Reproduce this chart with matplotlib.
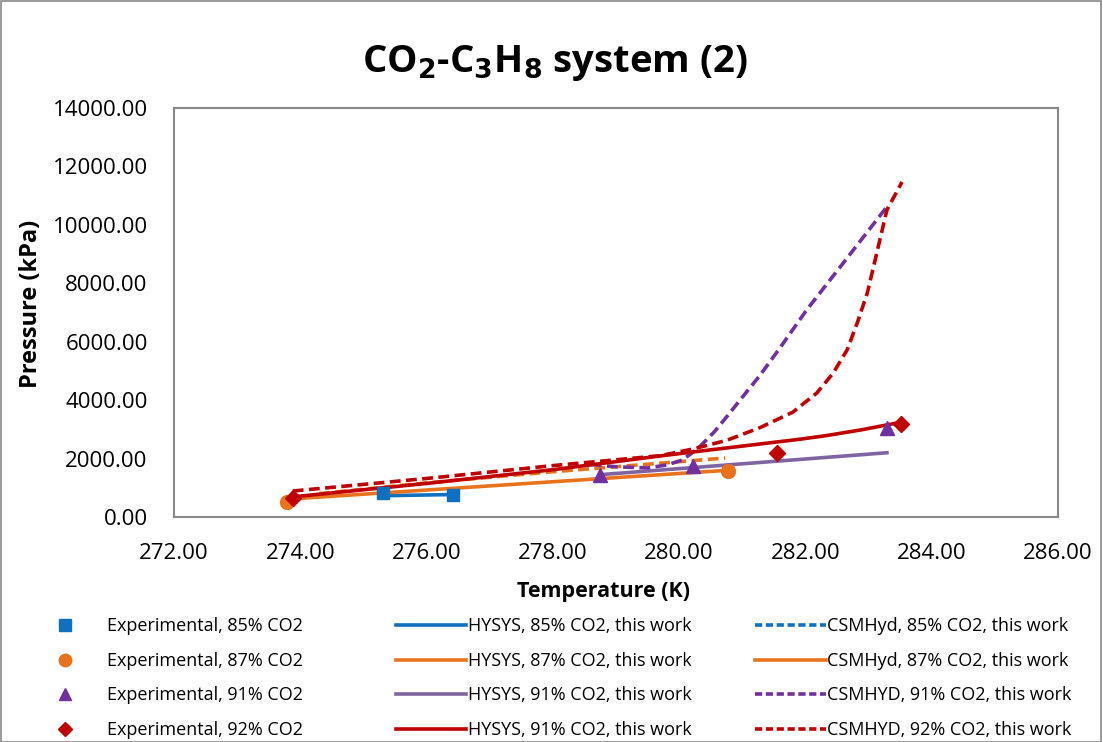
import matplotlib.pyplot as plt
from matplotlib.lines import Line2D
from matplotlib.patches import Rectangle

# experimental points
exp85_T = [275.31, 276.42]
exp85_P = [820, 750]
exp87_T = [273.79, 280.77]
exp87_P = [510, 1580]
exp91_T = [278.75, 280.22, 283.29]
exp91_P = [1440, 1750, 3050]
exp92_T = [273.88, 281.55, 283.51]
exp92_P = [650, 2190, 3180]

# HYSYS predictions
hys85_T = [275.31, 276.42]
hys85_P = [730, 770]
hys87_T = [274.0, 280.77]
hys87_P = [640, 1600]
hys91_T = [278.75, 283.29]
hys91_P = [1450, 2200]
hys92_T = [273.88, 276.0, 278.0, 279.7, 280.5, 281.28, 281.9, 282.34, 282.9, 283.5]
hys92_P = [690, 1150, 1620, 2090, 2300, 2500, 2660, 2790, 2990, 3240]

# CSMHyd predictions
csm87_T = [274.3, 276.0, 278.0, 280.73]
csm87_P = [800, 1170, 1550, 2020]
csm91_T = [278.6, 279.0, 279.5, 279.8, 280.05, 280.3, 280.55, 280.76, 281.0,
           281.28, 281.6, 282.02, 282.55, 283.29]
csm91_P = [1800, 1720, 1680, 1780, 1950, 2350, 2900, 3450, 4100,
           4850, 5800, 7090, 8560, 10620]
csm92_T = [273.88, 276.0, 278.0, 279.7, 280.22, 280.76, 281.28, 281.8, 282.18,
           282.44, 282.66, 282.82, 282.98, 283.13, 283.29, 283.53]
csm92_P = [890, 1320, 1760, 2100, 2330, 2630, 3060, 3590, 4245,
           4930, 5720, 6640, 7670, 9040, 10510, 11470]

BLUE = '#1070C0'
ORANGE = '#E8731C'
PURPLE = '#7030A0'
LPURPLE = '#8064A2'
RED = '#C00000'

plt.rcParams['font.family'] = ['Open Sans', 'DejaVu Sans']

fig = plt.figure(figsize=(11.03, 7.42), dpi=100)
ax = fig.add_axes([0.1578, 0.3032, 0.8014, 0.5512])

lw = 2.6
dash = (0, (3, 1.5))
ax.plot(hys85_T, hys85_P, color=BLUE, lw=lw)
ax.plot(hys87_T, hys87_P, color=ORANGE, lw=lw)
ax.plot(csm87_T, csm87_P, color=ORANGE, lw=lw, ls=dash)
ax.plot(hys91_T, hys91_P, color=LPURPLE, lw=lw)
ax.plot(csm91_T, csm91_P, color=PURPLE, lw=lw, ls=dash)
ax.plot(hys92_T, hys92_P, color=RED, lw=lw)
ax.plot(csm92_T, csm92_P, color=RED, lw=lw, ls=dash)

ax.plot(exp85_T, exp85_P, 's', color=BLUE, ms=9, ls='none')
ax.plot(exp87_T, exp87_P, 'o', color=ORANGE, ms=10, ls='none')
ax.plot(exp91_T, exp91_P, '^', color=PURPLE, ms=10, ls='none')
ax.plot(exp92_T, exp92_P, 'D', color=RED, ms=8, ls='none')

ax.set_xlim(272, 286)
ax.set_ylim(0, 14000)
ax.set_xticks(range(272, 287, 2))
ax.set_yticks(range(0, 14001, 2000))
ax.xaxis.set_major_formatter(lambda v, p: f'{v:.2f}')
ax.yaxis.set_major_formatter(lambda v, p: f'{v:.2f}')
ax.tick_params(length=0, labelsize=16, pad=19)
for s in ax.spines.values():
    s.set_color('#898989')
    s.set_linewidth(1.5)

ax.set_xlabel('Temperature (K)', fontsize=15.5, fontweight='bold')
ax.set_ylabel('Pressure (kPa)', fontsize=17, fontweight='bold')
ax.xaxis.set_label_coords(0.486, -0.156)
ax.yaxis.set_label_coords(-0.148, 0.52)
fig.text(0.503, 0.915, 'CO$_\\mathbf{2}$-C$_\\mathbf{3}$H$_\\mathbf{8}$ system (2)',
         ha='center', va='center', fontsize=27.5, fontweight='bold')

# legend, one column at a time like the Excel layout
col1 = [
    (Line2D([], [], marker='s', color=BLUE, ls='none', ms=8), 'Experimental, 85% CO2'),
    (Line2D([], [], marker='o', color=ORANGE, ls='none', ms=9), 'Experimental, 87% CO2'),
    (Line2D([], [], marker='^', color=PURPLE, ls='none', ms=9), 'Experimental, 91% CO2'),
    (Line2D([], [], marker='D', color=RED, ls='none', ms=7), 'Experimental, 92% CO2'),
]
col2 = [
    (Line2D([], [], color=BLUE, lw=lw), 'HYSYS, 85% CO2, this work'),
    (Line2D([], [], color=ORANGE, lw=lw), 'HYSYS, 87% CO2, this work'),
    (Line2D([], [], color=LPURPLE, lw=lw), 'HYSYS, 91% CO2, this work'),
    (Line2D([], [], color=RED, lw=lw), 'HYSYS, 91% CO2, this work'),
]
col3 = [
    (Line2D([], [], color=BLUE, lw=lw, ls=(0, (2, 1))), 'CSMHyd, 85% CO2, this work'),
    (Line2D([], [], color=ORANGE, lw=lw), 'CSMHyd, 87% CO2, this work'),
    (Line2D([], [], color=PURPLE, lw=lw, ls=(0, (2, 1))), 'CSMHYD, 91% CO2, this work'),
    (Line2D([], [], color=RED, lw=lw, ls=(0, (2, 1))), 'CSMHYD, 92% CO2, this work'),
]
for entries, x0, tpad in [(col1, 0.012, 0.4), (col2, 0.344, 0.1), (col3, 0.670, 0.1)]:
    h, l = zip(*entries)
    fig.legend(h, l, loc='upper left', bbox_to_anchor=(x0, 0.19), frameon=False,
               fontsize=13, handlelength=3.9, handletextpad=tpad, labelspacing=0.92)

fig.patches.append(Rectangle((0.001, 0.0), 0.997, 0.999, transform=fig.transFigure,
                             fill=False, edgecolor='#898989', lw=1.2))

fig.savefig('out.png', dpi=100)
